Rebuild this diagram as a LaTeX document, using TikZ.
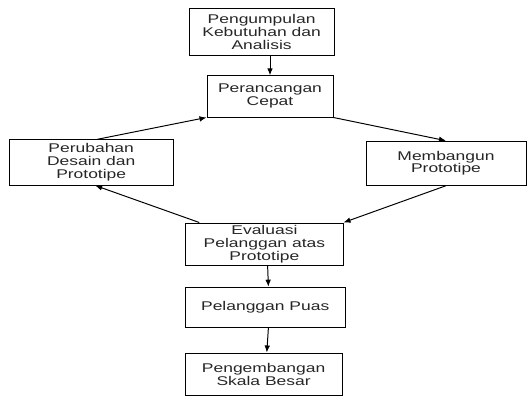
\documentclass[tikz,border=0pt]{standalone}
\usepackage{fontspec}
\setmainfont[FakeStretch=1.38]{Liberation Sans}
\usepackage{tikz}
\usetikzlibrary{arrows.meta}

\begin{document}
\begin{tikzpicture}[every node/.style={rectangle, draw, line width=0.7pt, align=center, inner sep=1pt, text=black!85, font=\fontsize{9}{9.2}\selectfont}, line width=0.7pt, >={Latex[length=5pt,width=4pt]}]
    \useasboundingbox (0,0) rectangle (13.2,-9.95);
    \node[minimum width=3.63cm, minimum height=1.18cm] (A) at (6.54,-0.79) {Pengumpulan\\Kebutuhan dan\\Analisis};
    \node[minimum width=3.15cm, minimum height=1.03cm] (B) at (6.75,-2.41) {Perancangan\\Cepat};
    \node[minimum width=4.1cm, minimum height=1.13cm] (C) at (2.28,-4.06) {Perubahan\\Desain dan\\Prototipe};
    \node[minimum width=4.0cm, minimum height=1.1cm] (D) at (11.15,-4.08) {Membangun\\Prototipe};
    \node[minimum width=3.93cm, minimum height=1.05cm] (E) at (6.61,-6.1) {Evaluasi\\Pelanggan atas\\Prototipe};
    \node[minimum width=4.0cm, minimum height=1.0cm] (F) at (6.63,-7.68) {Pelanggan Puas};
    \node[minimum width=3.93cm, minimum height=1.05cm] (G) at (6.59,-9.35) {Pengembangan\\Skala Besar};

    \draw[->] (B.north |- A.south) -- (B.north);
    \draw[->] ([xshift=0.15cm]C.north) -- (B.south west);
    \draw[->] (B.south east) -- (D.north);
    \draw[->] (D.south) -- (E.north east);
    \draw[->] ([xshift=0.35cm]E.north west) -- ([xshift=0.1cm]C.south);
    \draw[->] ([xshift=0.08cm]E.south) -- ([xshift=0.08cm]F.north);
    \draw[->] ([xshift=0.08cm]F.south) -- ([xshift=0.08cm]G.north);
\end{tikzpicture}
\end{document}
